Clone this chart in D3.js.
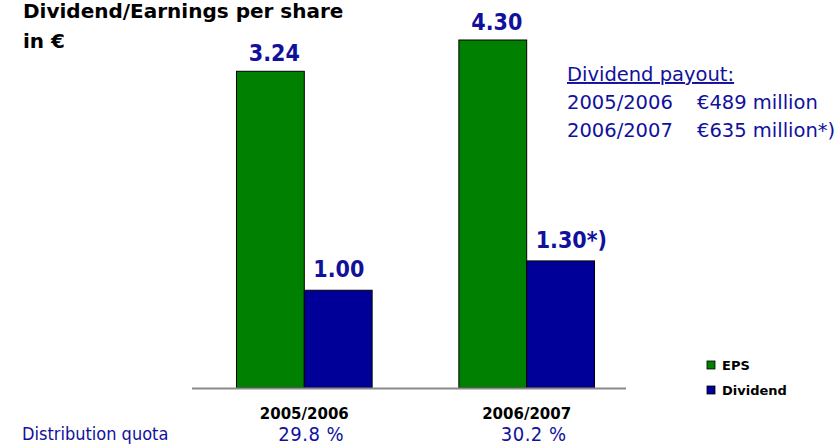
<!DOCTYPE html>
<html lang="en">
<head>
    <meta charset="UTF-8">
    <title>dividend / eps</title>
    <script src="https://cdn.jsdelivr.net/npm/d3@7"></script>
    <style>
        body { margin: 0; background: #fff; }
        .cond { font-family: "DejaVu Sans Condensed", "DejaVu Sans", sans-serif; font-stretch: semi-condensed; }
        .plain { font-family: "DejaVu Sans", sans-serif; }
        .bold { font-family: "DejaVu Sans", sans-serif; font-weight: bold; }
    </style>
</head>
<body>
<svg id="main" width="838" height="445"></svg>
<script>
    // data
    let years = ["2005/2006", "2006/2007"];
    let eps = [3.24, 4.30];
    let dividend = [1.00, 1.30];
    let eps_labels = ["3.24", "4.30"];
    let div_labels = ["1.00", "1.30"];
    let div_notes = ["", "*)"];
    let quota = ["29.8 %", "30.2 %"];
    let payout_years = ["2005/2006", "2006/2007"];
    let payout_amounts = ["€489 million", "€635 million*)"];
    let series = ["EPS", "Dividend"];

    let green = "#008000", blue = "#000099", textBlue = "#11119c";

    let svg = d3.select("#main");

    // scales
    let x0 = d3.scaleBand().domain(years).range([192, 639]).paddingInner(0.39).paddingOuter(0.2);
    let x1 = d3.scaleBand().domain(series).range([0, x0.bandwidth()]);
    // the tall 4.30 bar is cut off at the top in the original, so clamp
    let y = d3.scaleLinear().domain([0, 3.56]).range([388, 40]).clamp(true);

    let rows = years.map((yr, i) => ({year: yr, vals: [eps[i], dividend[i]]}));

    let g = svg.selectAll(".grp").data(rows).enter().append("g")
        .attr("transform", d => `translate(${x0(d.year)},0)`);

    g.selectAll("rect").data(d => d.vals.map((v, j) => ({key: series[j], v: v})))
        .enter().append("rect")
        .attr("x", d => x1(d.key))
        .attr("y", d => y(d.v))
        .attr("width", x1.bandwidth())
        .attr("height", d => y(0) - y(d.v))
        .attr("fill", d => d.key === "EPS" ? green : blue)
        .attr("stroke", "#000")
        .attr("stroke-width", 1);

    // axis line
    svg.append("line")
        .attr("x1", 192).attr("x2", 626)
        .attr("y1", y(0) + 0.5).attr("y2", y(0) + 0.5)
        .attr("stroke", "#8a8a8a").attr("stroke-width", 2);

    // value labels
    years.forEach((yr, i) => {
        svg.append("text").attr("class", "cond")
            .attr("x", x0(yr) + x1("EPS") + x1.bandwidth() / 2 + 4)
            .attr("y", y(eps[i]) - 10)
            .attr("text-anchor", "middle")
            .attr("font-size", 23).attr("font-weight", "bold")
            .attr("fill", textBlue)
            .text(eps_labels[i]);

        let t = svg.append("text").attr("class", "cond")
            .attr("x", x0(yr) + x1("Dividend") + 9)
            .attr("y", y(dividend[i]) - 13)
            .attr("font-size", 23).attr("font-weight", "bold")
            .attr("fill", textBlue);
        t.append("tspan").text(div_labels[i]);
        if (div_notes[i]) t.append("tspan").text(div_notes[i]);

        // category labels
        svg.append("text").attr("class", "bold")
            .attr("x", x0(yr) + x0.bandwidth() / 2)
            .attr("y", 419)
            .attr("text-anchor", "middle")
            .attr("font-size", 15)
            .attr("fill", "#000")
            .text(yr);

        svg.append("text").attr("class", "cond")
            .attr("x", x0(yr) + x0.bandwidth() / 2 + 7)
            .attr("y", 441)
            .attr("text-anchor", "middle")
            .attr("font-size", 20)
            .attr("letter-spacing", 0.5)
            .attr("fill", textBlue)
            .text(quota[i]);
    });

    svg.append("text").attr("class", "cond")
        .attr("x", 22).attr("y", 440)
        .attr("font-size", 18)
        .attr("fill", textBlue)
        .text("Distribution quota");

    // title
    svg.append("text").attr("class", "bold")
        .attr("x", 23).attr("y", 18)
        .attr("font-size", 20).attr("fill", "#000")
        .text("Dividend/Earnings per share");
    svg.append("text").attr("class", "bold")
        .attr("x", 23).attr("y", 48)
        .attr("font-size", 20).attr("fill", "#000")
        .text("in €");

    // payout note
    svg.append("text").attr("class", "plain")
        .attr("x", 567).attr("y", 81)
        .attr("font-size", 19.5).attr("fill", textBlue)
        .attr("text-decoration", "underline")
        .text("Dividend payout:");
    payout_years.forEach((p, i) => {
        svg.append("text").attr("class", "plain")
            .attr("x", 567).attr("y", 109 + i * 28)
            .attr("font-size", 19.5).attr("fill", textBlue)
            .text(p);
        svg.append("text").attr("class", "plain")
            .attr("x", 697).attr("y", 109 + i * 28)
            .attr("font-size", 19.5).attr("fill", textBlue)
            .text(payout_amounts[i]);
    });

    // legend
    let leg = svg.selectAll(".leg").data(series).enter().append("g")
        .attr("transform", (d, i) => `translate(707,${361 + i * 25})`);
    leg.append("rect")
        .attr("width", 8).attr("height", 8)
        .attr("fill", d => d === "EPS" ? green : blue)
        .attr("stroke", "#000").attr("stroke-width", 0.8);
    leg.append("text").attr("class", "bold")
        .attr("x", 15).attr("y", 8.5)
        .attr("font-size", 13).attr("fill", "#000")
        .text(d => d);
</script>
</body>
</html>
